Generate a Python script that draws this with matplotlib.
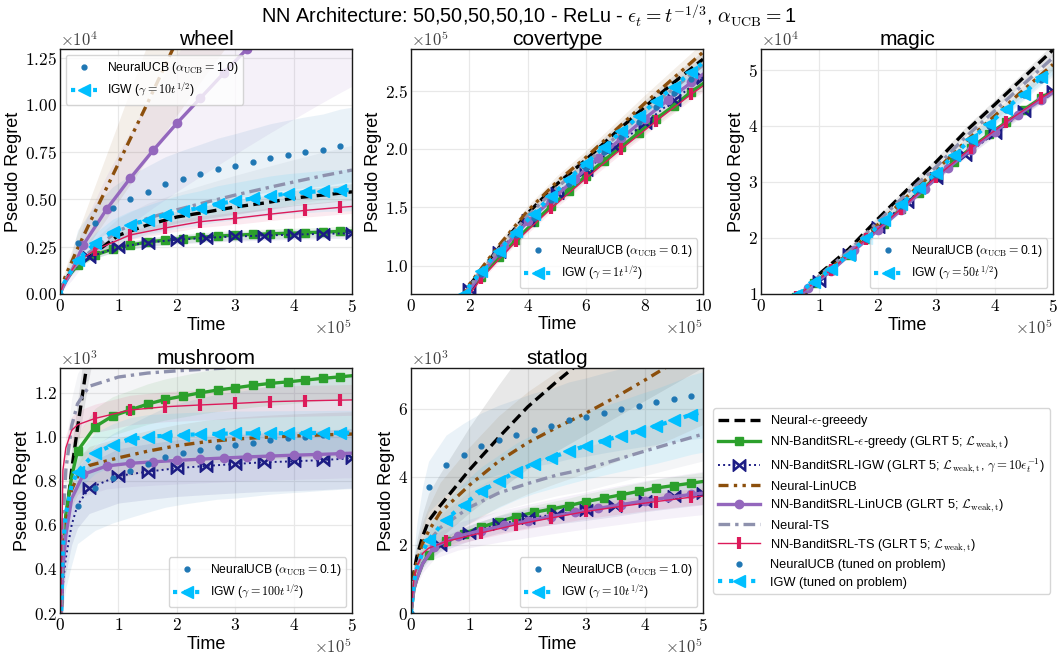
import matplotlib
matplotlib.use("Agg")
import matplotlib.pyplot as plt
from matplotlib.ticker import FixedLocator, FuncFormatter

# time grids in units of 1e5 rounds (horizon 5e5; covertype runs to 1e6)
grid_03 = [0, 0.05, 0.1, 0.2, 0.3, 0.6, 0.9, 1.2, 1.5, 1.8, 2.1, 2.4, 2.7, 3.0, 3.3, 3.6, 3.9, 4.2, 4.5, 4.8, 5.0]
grid_04 = [0, 0.05, 0.1, 0.2, 0.4, 0.8, 1.2, 1.6, 2.0, 2.4, 2.8, 3.2, 3.6, 4.0, 4.4, 4.8, 5.0]
grid_05 = [0, 0.05, 0.1, 0.2, 0.3, 0.5, 1.0, 1.5, 2.0, 2.5, 3.0, 3.5, 4.0, 4.5, 5.0]
grid_06 = [0, 0.05, 0.1, 0.2, 0.3, 0.6, 1.2, 1.8, 2.4, 3.0, 3.6, 4.2, 4.8, 5.0]

# ---- wheel
wheel_eps = [0, 500, 800, 1200, 1600, 1960, 3100, 3650, 4070, 4330, 4600, 4810, 5070, 5230, 5400]
wheel_srl_eps = [0, 400, 700, 1150, 1530, 2060, 2370, 2580, 2750, 2850, 2930, 3000, 3060, 3110, 3150, 3180, 3210, 3240, 3270, 3310, 3330]
wheel_srl_igw = [0, 400, 700, 1150, 1500, 1950, 2480, 2720, 2870, 2970, 3040, 3090, 3140, 3180, 3210]
wheel_linucb = [0, 600, 1000, 1700, 2400, 3700, 6900, 10100, 13400, 16500, 19500, 22500, 25500, 28400, 31300]
wheel_srl_linucb = [0, 350, 650, 1200, 2600, 4490, 6110, 7610, 9020, 10340, 11660, 12950, 14200, 15400, 16600, 17750, 18300]
wheel_ts = [0, 500, 800, 1250, 1600, 2200, 3350, 4000, 4450, 4850, 5230, 5580, 5920, 6250, 6550]
wheel_srl_ts = [0, 450, 750, 1250, 1700, 2330, 3120, 3490, 3820, 4000, 4220, 4420, 4580, 4630]
wheel_neuralucb = [0, 500, 900, 1700, 2700, 3770, 4530, 5020, 5410, 5800, 6080, 6330, 6590, 6780, 6990, 7200, 7350, 7490, 7610, 7820, 7900]
wheel_igw = [0, 450, 750, 1250, 1800, 2680, 3290, 3650, 3910, 4170, 4390, 4550, 4770, 4910, 5050, 5200, 5300, 5370, 5450, 5480, 5500]
wheel_spread = [0.08, 0.08, 0.08, 0.3, 0.4, 0.2, 0.08, 0.25, 0.2]

# ---- covertype
cov_eps = [0, 4600, 9000, 17000, 25000, 41500, 83000, 115000, 145000, 170000, 191000, 214000, 236000, 257000, 277000]
cov_srl_eps = [0, 4300, 8500, 16000, 23000, 48000, 72000, 90000, 107000, 122000, 137000, 151000, 164000, 177000, 190000, 202000, 214000, 226000, 237000, 249000, 256000]
cov_srl_igw = [0, 4400, 8600, 16000, 24000, 40000, 80000, 112000, 139000, 162000, 182000, 202000, 222000, 242000, 261000]
cov_linucb = [0, 5000, 9000, 17000, 25000, 42000, 84000, 117000, 147000, 172000, 193000, 216000, 239000, 261000, 283000]
cov_srl_linucb = [0, 4400, 8500, 16000, 32000, 66000, 93000, 116000, 138000, 156000, 174000, 192000, 209000, 226000, 242000, 257000, 264000]
cov_ts = [0, 4500, 8800, 16500, 24500, 41000, 82000, 114000, 143000, 167000, 188000, 210000, 232000, 252000, 272000]
cov_srl_ts = [0, 4300, 8400, 16000, 23000, 47000, 89000, 121000, 149000, 175000, 200000, 224000, 247000, 254000]
cov_neuralucb = [0, 4500, 8800, 16500, 24000, 49000, 74000, 93000, 110000, 126000, 141000, 156000, 170000, 184000, 197000, 210000, 223000, 236000, 248000, 260000, 266000]
cov_igw = [0, 4500, 8500, 16000, 24000, 50000, 76000, 95000, 112500, 129000, 144500, 159500, 174000, 188000, 201500, 215000, 228000, 241000, 253500, 266000, 274000]
cov_spread = [0.025, 0.02, 0.02, 0.03, 0.02, 0.02, 0.02, 0.02, 0.02]

# ---- magic
magic_eps = [0, 900, 1700, 3200, 4700, 7400, 13600, 18000, 23400, 28600, 33600, 39000, 43800, 48700, 53600]
magic_srl_eps = [0, 800, 1600, 3000, 4500, 9500, 11900, 14300, 17000, 19800, 22500, 25200, 28100, 30900, 33600, 36100, 38500, 40700, 42900, 45000, 46300]
magic_srl_igw = [0, 800, 1600, 3000, 4500, 7300, 12300, 17100, 21900, 26500, 30800, 34800, 38700, 42600, 46300]
magic_linucb = [0, 850, 1650, 3100, 4600, 7200, 13100, 17200, 22400, 27400, 32100, 37200, 41800, 46500, 51000]
magic_srl_linucb = [0, 800, 1600, 3000, 6500, 11000, 14100, 17800, 21400, 25000, 28800, 32500, 35800, 39000, 42000, 44700, 46000]
magic_ts = [0, 850, 1650, 3150, 4650, 7300, 13300, 17600, 22900, 28000, 32700, 38000, 42700, 47500, 52200]
magic_srl_ts = [0, 800, 1600, 3000, 4500, 9500, 14300, 19800, 25200, 30900, 36100, 40700, 45000, 46300]
magic_neuralucb = [0, 800, 1600, 3050, 4450, 9700, 12100, 14300, 16900, 19800, 23000, 25800, 28600, 31300, 34500, 37400, 40000, 42800, 45500, 48300, 49900]
magic_igw = [0, 800, 1600, 3100, 4500, 9800, 12200, 14400, 17000, 20000, 23200, 26000, 28900, 31600, 34800, 37700, 40300, 43100, 45800, 48700, 50300]
magic_spread = [0.02, 0.015, 0.015, 0.02, 0.015, 0.02, 0.015, 0.02, 0.02]

# ---- mushroom
mush_eps = [0, 450, 620, 850, 1040, 1400, 2100, 2700, 3200, 3700, 4200, 4650, 5100, 5550, 6000]
mush_srl_eps = [0, 450, 650, 820, 936, 1046, 1095, 1122, 1149, 1170, 1185, 1200, 1213, 1223, 1234, 1243, 1250, 1258, 1266, 1273, 1278]
mush_srl_igw = [0, 330, 450, 600, 690, 767, 823, 842, 858, 868, 877, 885, 889, 895, 903]
mush_linucb = [0, 450, 600, 760, 820, 870, 905, 935, 960, 978, 990, 998, 1004, 1009, 1013]
mush_srl_linucb = [0, 400, 550, 720, 830, 868, 880, 887, 893, 899, 904, 909, 913, 917, 920, 924, 926]
mush_ts = [0, 600, 850, 1050, 1150, 1230, 1272, 1290, 1300, 1308, 1315, 1320, 1326, 1331, 1335]
mush_srl_ts = [0, 850, 950, 1030, 1055, 1084, 1122, 1137, 1145, 1152, 1160, 1164, 1167, 1168]
mush_neuralucb = [0, 300, 420, 560, 687, 767, 812, 845, 877, 907, 926, 941, 956, 963, 974, 986, 994, 1001, 1009, 1016, 1020]
mush_igw = [0, 500, 650, 780, 842, 926, 963, 989, 1001, 1005, 1009, 1012, 1014, 1016, 1016, 1017, 1017, 1018, 1018, 1019, 1019]
mush_spread = [0.1, 0.08, 0.15, 0.1, 0.12, 0.12, 0.06, 0.25, 0.1]

# ---- statlog
stat_eps = [0, 1200, 1650, 2250, 2700, 3150, 4200, 5150, 6050, 6800, 7500, 8200, 8900, 9600, 10300]
stat_srl_eps = [0, 700, 1000, 1450, 1710, 2100, 2330, 2520, 2680, 2830, 2950, 3050, 3150, 3270, 3370, 3470, 3570, 3670, 3740, 3810, 3860]
stat_srl_igw = [0, 700, 1000, 1450, 1700, 2000, 2350, 2600, 2780, 2900, 3020, 3150, 3300, 3420, 3530]
stat_linucb = [0, 1100, 1500, 2050, 2400, 2950, 3750, 4450, 5000, 5450, 5870, 6330, 6830, 7350, 7900]
stat_srl_linucb = [0, 700, 1000, 1450, 1950, 2250, 2420, 2570, 2700, 2830, 2950, 3070, 3180, 3290, 3390, 3480, 3520]
stat_ts = [0, 900, 1350, 1800, 2100, 2500, 3100, 3520, 3800, 4050, 4230, 4490, 4750, 5000, 5250]
stat_srl_ts = [0, 1000, 1350, 1750, 1900, 2100, 2350, 2590, 2790, 2980, 3130, 3270, 3400, 3430]
stat_neuralucb = [0, 1500, 2200, 3100, 3710, 4350, 4640, 4890, 5080, 5230, 5380, 5490, 5650, 5750, 5870, 5980, 6080, 6180, 6280, 6370, 6420]
stat_igw = [0, 900, 1300, 1800, 2150, 2740, 3180, 3570, 3860, 4150, 4380, 4560, 4740, 4910, 5060, 5200, 5350, 5490, 5650, 5820, 5900]
stat_spread = [0.3, 0.07, 0.1, 0.3, 0.18, 0.15, 0.07, 0.2, 0.2]

# per-panel hyper-parameters shown in the small legends
alpha_ucb = ['1.0', '0.1', '0.1', '0.1', '1.0']
gamma_igw = ['10', '1', '50', '100', '10']

labels = [r'Neural-$\epsilon$-greeedy',
          r'NN-BanditSRL-$\epsilon$-greedy (GLRT 5; $\mathcal{L}_{\rm weak,t}$)',
          r'NN-BanditSRL-IGW (GLRT 5; $\mathcal{L}_{\rm weak,t}$, $\gamma = 10\epsilon_t^{-1}$)',
          'Neural-LinUCB',
          r'NN-BanditSRL-LinUCB (GLRT 5; $\mathcal{L}_{\rm weak,t}$)',
          'Neural-TS',
          r'NN-BanditSRL-TS (GLRT 5; $\mathcal{L}_{\rm weak,t}$)',
          'NeuralUCB (tuned on problem)',
          'IGW (tuned on problem)']
grids = [grid_05, grid_03, grid_05, grid_05, grid_04, grid_05, grid_06, grid_03, grid_03]
styles = [
    dict(color='black', ls=(0, (3.2, 1.6)), lw=2.4),
    dict(color='#2ca02c', ls='-', lw=2.4, marker='s', ms=5.5),
    dict(color='#1c1c84', ls=':', lw=1.4, marker=r'$\bowtie$', ms=9),
    dict(color='#8c4f0c', ls=(0, (3, 1.6, 1, 1.6, 1, 1.6)), lw=2.4),
    dict(color='#9467bd', ls='-', lw=2.4, marker='o', ms=6),
    dict(color='#8e91ad', ls=(0, (3.5, 1.5, 1, 1.5)), lw=2.4),
    dict(color='#dc1a5a', ls='-', lw=1.0, marker='|', ms=8, mew=3),
    dict(color='#1f77b4', ls='none', marker='o', ms=3.5),
    dict(color='#00bfff', ls=':', lw=3, marker='<', ms=9),
]
marks = [None, list(range(4, 20)), list(range(5, 15)), None, list(range(4, 16)),
         None, list(range(5, 13)), [0] + list(range(4, 20)), list(range(4, 20))]

panels = [
    dict(title='wheel', data=[wheel_eps, wheel_srl_eps, wheel_srl_igw, wheel_linucb, wheel_srl_linucb,
                             wheel_ts, wheel_srl_ts, wheel_neuralucb, wheel_igw],
         spread=wheel_spread, tscale=1, ylim=(0, 12950), yticks=[0, 2500, 5000, 7500, 10000, 12500],
         ydiv=1e4, yfmt='%.2f', ypow=4, xticks=[0, 1, 2, 3, 4, 5], leg='upper left',
         pos=[60, 49]),
    dict(title='covertype', data=[cov_eps, cov_srl_eps, cov_srl_igw, cov_linucb, cov_srl_linucb,
                                 cov_ts, cov_srl_ts, cov_neuralucb, cov_igw],
         spread=cov_spread, tscale=2, ylim=(75700, 285700), yticks=[100000, 150000, 200000, 250000],
         ydiv=1e5, yfmt='%.1f', ypow=5, xticks=[0, 2, 4, 6, 8, 10], leg='lower right',
         pos=[411, 49]),
    dict(title='magic', data=[magic_eps, magic_srl_eps, magic_srl_igw, magic_linucb, magic_srl_linucb,
                             magic_ts, magic_srl_ts, magic_neuralucb, magic_igw],
         spread=magic_spread, tscale=1, ylim=(10000, 53750), yticks=[10000, 20000, 30000, 40000, 50000],
         ydiv=1e4, yfmt='%.0f', ypow=4, xticks=[0, 1, 2, 3, 4, 5], leg='lower right',
         pos=[761, 49]),
    dict(title='mushroom', data=[mush_eps, mush_srl_eps, mush_srl_igw, mush_linucb, mush_srl_linucb,
                                mush_ts, mush_srl_ts, mush_neuralucb, mush_igw],
         spread=mush_spread, tscale=1, ylim=(200, 1313), yticks=[200, 400, 600, 800, 1000, 1200],
         ydiv=1e3, yfmt='%.1f', ypow=3, xticks=[0, 1, 2, 3, 4, 5], leg='lower right',
         pos=[60, 368]),
    dict(title='statlog', data=[stat_eps, stat_srl_eps, stat_srl_igw, stat_linucb, stat_srl_linucb,
                               stat_ts, stat_srl_ts, stat_neuralucb, stat_igw],
         spread=stat_spread, tscale=1, ylim=(0, 7190), yticks=[0, 2000, 4000, 6000],
         ydiv=1e3, yfmt='%.0f', ypow=3, xticks=[0, 1, 2, 3, 4, 5], leg='lower right',
         pos=[411, 368]),
]

plt.rcParams['font.family'] = ['Liberation Sans', 'DejaVu Sans']
plt.rcParams['mathtext.fontset'] = 'cm'
plt.rcParams['axes.linewidth'] = 1.0
plt.rcParams['xtick.major.size'] = 0
plt.rcParams['ytick.major.size'] = 0
plt.rcParams['xtick.major.pad'] = 3
plt.rcParams['ytick.major.pad'] = 2

W, H = 1057, 654
fig = plt.figure(figsize=(W / 100, H / 100), dpi=100)
fig.suptitle(r'NN Architecture: 50,50,50,50,10 - ReLu - $\epsilon_t = t^{-1/3}$, $\alpha_{\rm UCB}=$1',
             fontsize=14.3, y=1 - 16 / H, va='center')

handles = None
for k, p in enumerate(panels):
    x0, y0 = p['pos']
    ax = fig.add_axes([x0 / W, 1 - (y0 + 245) / H, 292 / W, 245 / H])
    lines = []
    for j in range(9):
        t = [g * p['tscale'] * 1e5 for g in grids[j]]
        y = p['data'][j]
        s = p['spread'][j]
        ax.fill_between(t, [v * (1 - s) for v in y], [v * (1 + s) for v in y],
                        color=styles[j]['color'], alpha=0.09, lw=0)
    for j in range(9):
        t = [g * p['tscale'] * 1e5 for g in grids[j]]
        ln, = ax.plot(t, p['data'][j], markevery=marks[j], label=labels[j], **styles[j])
        lines.append(ln)
    if handles is None:
        handles = lines

    ax.set_xlim(0, 5e5 * p['tscale'])
    ax.set_ylim(*p['ylim'])
    ax.grid(True, color='#e8e8e8', lw=0.9)
    ax.set_axisbelow(True)
    for sp in ax.spines.values():
        sp.set_color('0.1')
    xt = [v * 1e5 for v in p['xticks']]
    ax.xaxis.set_major_locator(FixedLocator(xt))
    ax.xaxis.set_major_formatter(FuncFormatter(lambda v, pos: r'$%d$' % round(v / 1e5)))
    ax.yaxis.set_major_locator(FixedLocator(p['yticks']))
    fmt = p['yfmt']
    div = p['ydiv']
    ax.yaxis.set_major_formatter(FuncFormatter(lambda v, pos, f=fmt, d=div: '$' + f % (v / d) + '$'))
    ax.tick_params(labelsize=12.5)
    ax.set_title(p['title'], fontsize=15, pad=3)
    ax.set_xlabel('Time', fontsize=13, labelpad=1)
    ax.set_ylabel('Pseudo Regret', fontsize=13, labelpad=2)
    ax.text(0.0, 1.0, r'$\times10^{%d}$' % p['ypow'], transform=ax.transAxes,
            ha='left', va='bottom', fontsize=12, color='0.25')
    ax.text(1.0, -0.095, r'$\times10^{5}$', transform=ax.transAxes,
            ha='right', va='top', fontsize=12, color='0.25')
    ax.legend([lines[7], lines[8]],
              [r'NeuralUCB ($\alpha_{\rm UCB}=$%s)' % alpha_ucb[k],
               r'IGW ($\gamma = %st^{1/2}$)' % gamma_igw[k]],
              loc=p['leg'], fontsize=8.7, handlelength=2.2, handletextpad=0.8,
              borderaxespad=0.5, labelspacing=0.4, edgecolor='#cccccc', fancybox=True)

fig.legend(handles, labels, loc='upper left', bbox_to_anchor=(713 / W, 1 - 408 / H),
           borderaxespad=0, fontsize=9.2, handlelength=3.3, handletextpad=0.8,
           labelspacing=0.42, edgecolor='#cccccc', fancybox=True)

fig.savefig('out.png', dpi=100)
